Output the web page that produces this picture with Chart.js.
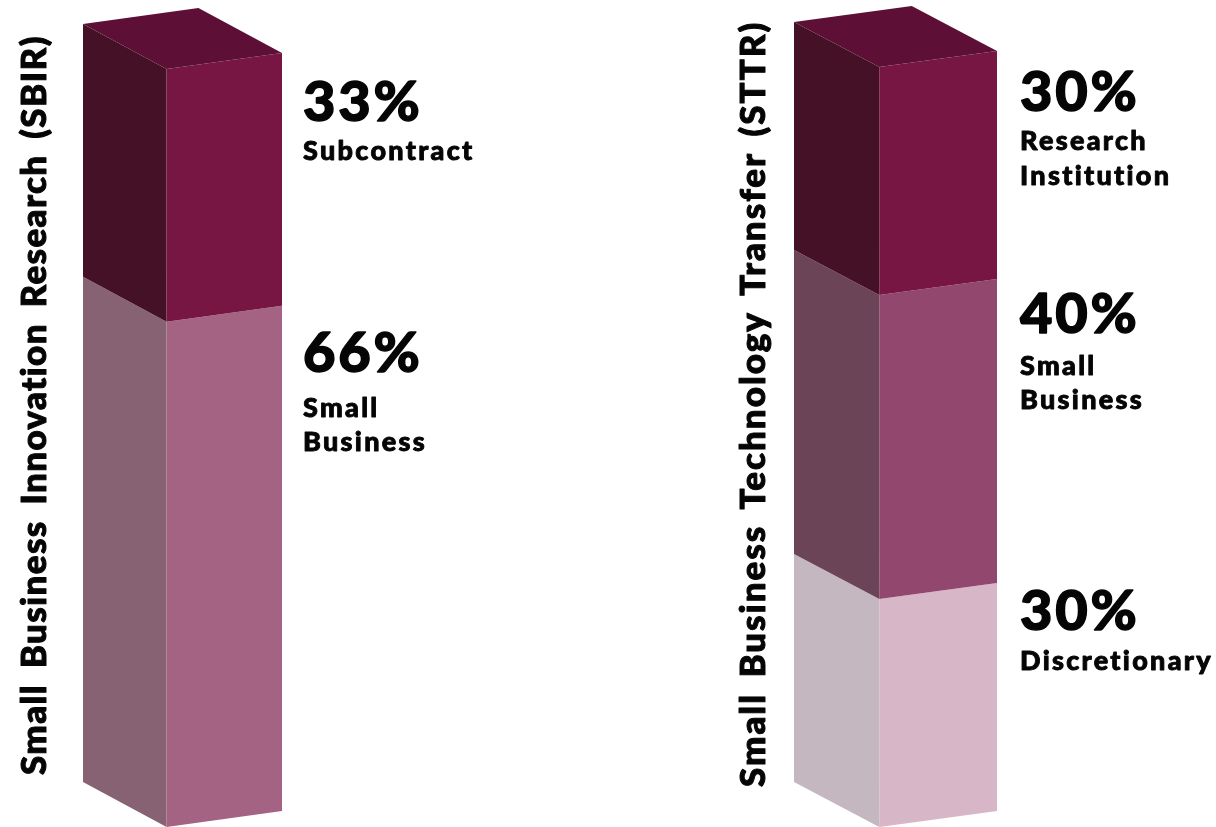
<!DOCTYPE html>
<html lang="en">
<head>
<meta charset="utf-8">
<title>SBIR and STTR allocation</title>
<script src="https://cdn.jsdelivr.net/npm/chart.js@4/dist/chart.umd.min.js"></script>
<style>
  html, body { margin: 0; padding: 0; background: #fff; overflow: hidden; }
  #page { position: relative; width: 1216px; height: 827px; }
  canvas { position: absolute; top: 0; }
  #sbirChart { left: 0; }
  #sttrChart { left: 608px; }
</style>
</head>
<body>
<div id="page">
  <canvas id="sbirChart" width="608" height="827"></canvas>
  <canvas id="sttrChart" width="608" height="827"></canvas>
</div>
<script>
// Stacks run bottom to top
const sbirTitle = 'Small Business Innovation Research (SBIR)';
const sbirValues = [66, 33];
const sbirNames = [['Small', 'Business'], ['Subcontract']];

const sttrTitle = 'Small Business Technology Transfer (STTR)';
const sttrValues = [30, 40, 30];
const sttrNames = [['Discretionary'], ['Small', 'Business'], ['Research', 'Institution']];

// Shades per segment: [front, side]
const darkShade = ['#771643', '#451126'];
const midShade = ['#92476e', '#6c4458'];
const paleShade = ['#d6b6c7', '#c5b7bf'];
const softShade = ['#a56384', '#866272'];
const topColor = '#5d0f36';

const fontFamily = 'Lato, "Open Sans", sans-serif';

const polygon = (ctx, points, color) => {
    ctx.beginPath();
    points.forEach(([x, y], i) => (i ? ctx.lineTo(x, y) : ctx.moveTo(x, y)));
    ctx.closePath();
    ctx.fillStyle = color;
    ctx.fill();
};

// Turns each flat stacked bar into the two visible sides of a block, with a lid on the top one
const blockPlugin = {
    id: 'block',
    afterDatasetsDraw(chart, args, opts) {
        const ctx = chart.ctx;
        ctx.save();
        chart.data.datasets.forEach((ds, i) => {
            const bar = chart.getDatasetMeta(i).data[0];
            const left = bar.x - bar.width / 2;
            const right = bar.x + bar.width / 2;
            const front = left + bar.width * opts.sideShare;
            const edge = (y) => ({ l: y - opts.drop, r: y - opts.rise });
            const top = edge(bar.y);
            const bottom = edge(bar.base);
            polygon(ctx, [[left, top.l], [front, bar.y], [front, bar.base], [left, bottom.l]], ds.shade[1]);
            polygon(ctx, [[front, bar.y], [right, top.r], [right, bottom.r], [front, bar.base]], ds.shade[0]);
            if (i === chart.data.datasets.length - 1) {
                const back = [left + right - front, top.l + top.r - bar.y];
                polygon(ctx, [[left, top.l], back, [right, top.r], [front, bar.y]], topColor);
            }
        });
        ctx.restore();
    }
};

// Lato tops out at a lighter weight than these labels, so the fill gets a thin outline too
const heavyText = (ctx, str, x, y, outline) => {
    ctx.lineWidth = outline;
    ctx.strokeText(str, x, y);
    ctx.fillText(str, x, y);
};

// Percent and name beside each segment, plus the rotated title of the column
const textPlugin = {
    id: 'columnText',
    afterDraw(chart, args, opts) {
        const ctx = chart.ctx;
        ctx.save();
        ctx.fillStyle = '#050505';
        ctx.strokeStyle = '#050505';
        ctx.lineJoin = 'round';
        ctx.textBaseline = 'alphabetic';
        chart.data.datasets.forEach((ds, i) => {
            const [percentY, ...lineY] = opts.baselines[i];
            ctx.font = '900 56px ' + fontFamily;
            ctx.letterSpacing = '2.8px';
            heavyText(ctx, ds.data[0] + '%', opts.textX, percentY, 1.4);
            ctx.font = '900 27px ' + fontFamily;
            ctx.letterSpacing = '2.3px';
            ds.names.forEach((line, n) => heavyText(ctx, line, opts.textX, lineY[n], 0.9));
        });
        ctx.translate(opts.titleX, opts.titleY);
        ctx.rotate(-Math.PI / 2);
        ctx.font = '900 35px ' + fontFamily;
        ctx.letterSpacing = opts.titleSpacing;
        ctx.wordSpacing = opts.titleWordGap;
        heavyText(ctx, opts.title, 0, 0, 1);
        ctx.restore();
    }
};

const createBlockChart = (canvasId, values, names, shades, total, padding, text) => {
    new Chart(document.getElementById(canvasId), {
        type: 'bar',
        data: {
            labels: [text.title],
            datasets: values.map((v, i) => ({
                data: [v],
                names: names[i],
                shade: shades[i],
                backgroundColor: 'rgba(0,0,0,0)',
                barPercentage: 1,
                categoryPercentage: 1
            }))
        },
        options: {
            responsive: false,
            animation: false,
            layout: { padding },
            scales: {
                x: { stacked: true, display: false },
                y: { stacked: true, display: false, min: 0, max: total }
            },
            plugins: {
                legend: { display: false },
                tooltip: { enabled: false },
                block: { sideShare: 0.42, drop: 45, rise: 16 },
                columnText: text
            }
        },
        plugins: [blockPlugin, textPlugin]
    });
};

createBlockChart('sbirChart', sbirValues, sbirNames, [softShade, darkShade], 99,
    { left: 83, right: 326, top: 69, bottom: 0 },
    {
        title: sbirTitle, titleX: 46, titleY: 775, titleSpacing: '1.37px', titleWordGap: '6px', textX: 303,
        baselines: [[372, 417, 451], [121, 160]]
    });

createBlockChart('sttrChart', sttrValues, sttrNames, [paleShade, midShade, darkShade], 100,
    { left: 186, right: 219, top: 67, bottom: 0 },
    {
        title: sttrTitle, titleX: 157, titleY: 787, titleSpacing: '1.98px', titleWordGap: '5px', textX: 412,
        baselines: [[630, 670], [333, 375, 409], [111, 150, 185]]
    });
</script>
</body>
</html>
